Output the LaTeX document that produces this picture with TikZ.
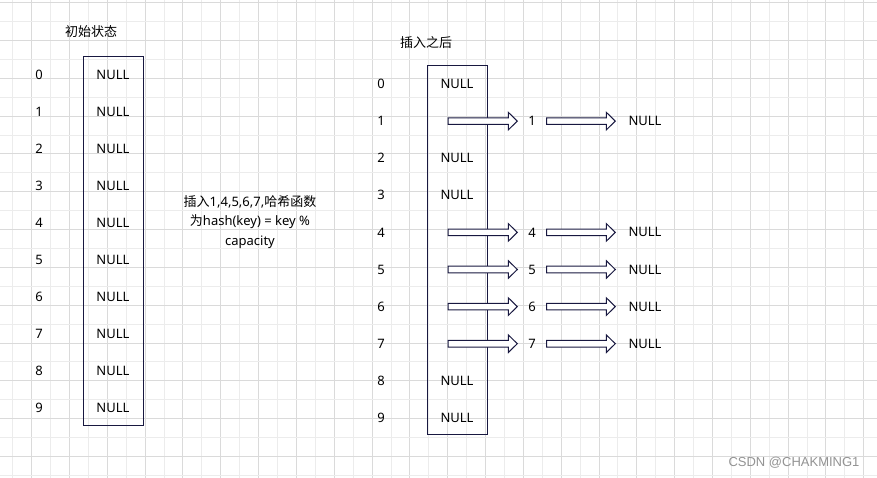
\documentclass[tikz,border=0pt]{standalone}
\usepackage{fontspec}
\setmainfont{Noto Sans}
\newfontfamily\cjk{Noto Sans CJK SC}
\newfontfamily\markfont{Liberation Sans}
\usetikzlibrary{calc}
\definecolor{boxline}{RGB}{24,24,64}
\definecolor{gridmaj}{RGB}{218,218,218}
\definecolor{gridmin}{RGB}{236,236,236}
% hollow block arrow from #1 to #2
\newcommand\fatarrow[2]{\draw[fat] ($(#1)+(0,-3.3)$) -- ($(#2)+(-9,-3.3)$) -- ($(#2)+(-9,-8.8)$) -- (#2)
	-- ($(#2)+(-9,8.8)$) -- ($(#2)+(-9,3.3)$) -- ($(#1)+(0,3.3)$) -- cycle;}
\begin{document}
\begin{tikzpicture}[x=1pt, y=-1pt, font=\fontsize{13}{19.5}\selectfont, line join=miter,
	fat/.style={draw=boxline, fill=white, line width=1pt},
	tab/.style={draw=boxline, line width=1pt},
	cell/.style={inner sep=0pt},
	num/.style={minimum width=29pt, inner sep=0pt},
	tail/.style={inner xsep=13pt, inner ysep=0pt}]
	\useasboundingbox (0,0) rectangle (877,478);
	\clip (0,0) rectangle (877,478);
	\fill[white] (0,0) rectangle (877,478);
	\foreach \i in {0,...,23} {
		\draw[gridmin, line width=1pt] ({12.8+37.82*\i},0) -- ++(0,478);
		\draw[gridmaj, line width=1pt] ({31.7+37.82*\i},0) -- ++(0,478);
	}
	\foreach \i in {0,...,12} {
		\draw[gridmin, line width=1pt] (0,{21.6+37.82*\i}) -- ++(877,0);
		\draw[gridmaj, line width=1pt] (0,{2.7+37.82*\i}) -- ++(877,0);
	}
	% initial table
	\node[font=\cjk\fontsize{13}{13}\selectfont] (titleA) at (91,32) {初始状态};
	\draw[tab] (83,57) rectangle (143,425);
	\foreach \i in {0,...,9} {
		\node[cell] (ia\i) at (39,{75+37*\i}) {\i};
		\node[cell] (na\i) at (113,{75+37*\i}) {NULL};
	}
	% hash note
	\node[align=center] (note) at (250,222) {{\cjk 插入}1,4,5,6,7,{\cjk 哈希函数}\\{\cjk 为}hash(key) = key \%\\capacity};
	% table after insert
	\node[font=\cjk\fontsize{13}{13}\selectfont] (titleB) at (426,43) {插入之后};
	\draw[tab] (427,66) rectangle (487,434);
	\foreach \i in {0,...,9}
		\node[cell] (ib\i) at (381,{84+37.1*\i}) {\i};
	\foreach \i in {0,2,3,8,9}
		\node[cell] (nb\i) at (457,{84+37.1*\i}) {NULL};
	\foreach \i in {1,4,5,6,7} {
		\coordinate (s\i) at (448,{84+37.1*\i});
		\node[num] (k\i) at (532,{84+37.1*\i}) {\i};
		\node[tail] (t\i) at (645,{84+37.1*\i}) {NULL};
		\fatarrow{s\i}{k\i.west}
		\fatarrow{k\i.east}{t\i.west}
	}
	\node[text=gray!85, font=\markfont\fontsize{13}{13}\selectfont] (mark) at (794,463) {CSDN @CHAKMING1};
\end{tikzpicture}
\end{document}
